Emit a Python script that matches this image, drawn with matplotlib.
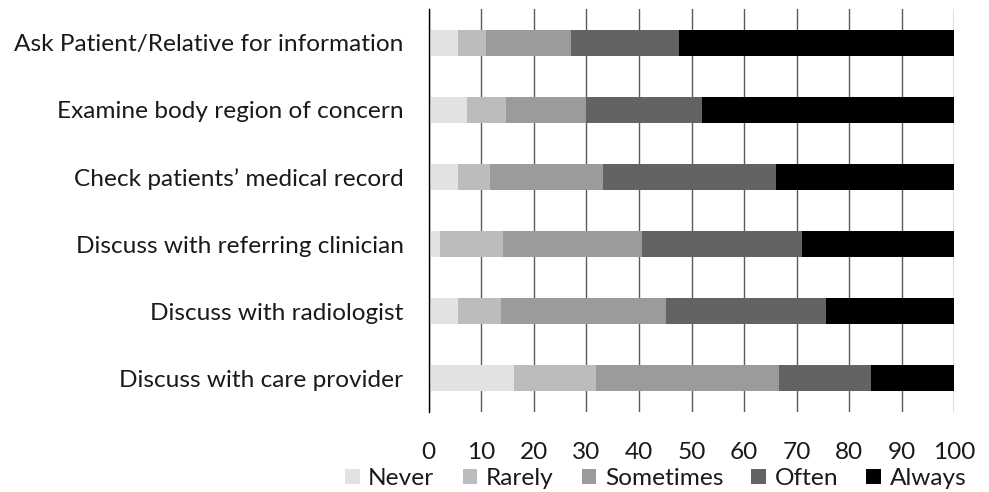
import matplotlib
matplotlib.use("Agg")
import matplotlib.pyplot as plt
from matplotlib.patches import Patch
import numpy as np

categories = [
    "Ask Patient/Relative for information",
    "Examine body region of concern",
    "Check patients\u2019 medical record",
    "Discuss with referring clinician",
    "Discuss with radiologist",
    "Discuss with care provider",
]
never = [5.6, 7.3, 5.6, 2.1, 5.6, 16.3]
rarely = [5.3, 7.4, 6.1, 12.1, 8.2, 15.5]
sometimes = [16.2, 15.2, 21.4, 26.4, 31.3, 34.8]
often = [20.5, 22.1, 33.0, 30.5, 30.4, 17.5]
always = [52.4, 48.0, 33.9, 28.9, 24.5, 15.9]
series_names = ["Never", "Rarely", "Sometimes", "Often", "Always"]
colors = ["#e2e2e2", "#bbbcbe", "#9b9b9b", "#636363", "#000000"]
xticks = [0, 10, 20, 30, 40, 50, 60, 70, 80, 90, 100]

plt.rcParams['font.family'] = ['Lato', 'DejaVu Sans']
FS = 17.6

fig = plt.figure(figsize=(9.89, 4.92), dpi=100)
ax = fig.add_axes([0.4333, 0.1636, 0.9651 - 0.4333, 0.9807 - 0.1636])

y = np.arange(len(categories))
left = np.zeros(len(categories))
for vals, name, c in zip([never, rarely, sometimes, often, always], series_names, colors):
    ax.barh(y, vals, left=left, height=0.39, color=c, edgecolor='none', label=name, zorder=3)
    left += np.array(vals)

ax.set_ylim(len(categories) - 0.5, -0.5)
ax.set_xlim(0, 100)
ax.set_xticks(xticks)
ax.set_xticklabels([str(t) for t in xticks])
ax.set_yticks(y)
ax.set_yticklabels(categories)
ax.tick_params(axis='y', length=0, pad=18, labelsize=FS, labelcolor='#1a1a1a')
ax.tick_params(axis='x', length=0, pad=22, labelsize=FS, labelcolor='#1a1a1a')
ax.grid(axis='x', color='#5a5a5a', linewidth=1.0, zorder=0)
for s in ['top', 'right', 'bottom']:
    ax.spines[s].set_visible(False)
ax.spines['left'].set_color('#000000')
ax.spines['left'].set_linewidth(1.0)
ax.spines['left'].set_zorder(4)

handles = [Patch(facecolor=c, edgecolor='none') for c in colors]
fig.legend(handles, series_names, loc='center', bbox_to_anchor=(0.663, 0.027), ncol=5,
           frameon=False, fontsize=FS, handlelength=0.6, handleheight=0.6,
           handletextpad=0.35, columnspacing=1.15, labelcolor='#1a1a1a',
           borderpad=0, borderaxespad=0)

fig.savefig("out.png", dpi=100)
